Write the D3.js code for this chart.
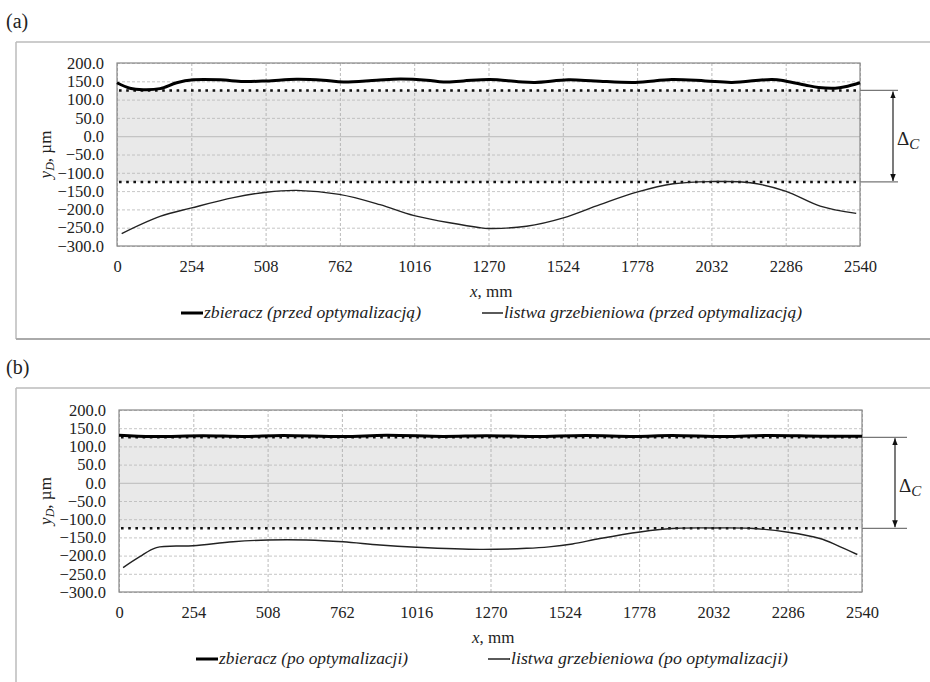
<!DOCTYPE html>
<html><head><meta charset="utf-8">
<script src="https://cdn.jsdelivr.net/npm/d3@7"></script>
<style>body{margin:0;background:#fff}text{font-family:"Liberation Serif","Times New Roman",serif;fill:#222}</style>
</head><body><svg id="c" width="930" height="682"></svg>
<script>
// ---- data ----
const xTicks = [0,254,508,762,1016,1270,1524,1778,2032,2286,2540];
const yTicks = [-300,-250,-200,-150,-100,-50,0,50,100,150,200];
const limits = [125,-125];

const aUpperX = [0,44,90,147,204,261,352,432,512,614,705,774,888,968,1059,1116,1184,1275,1372,1429,1543,1634,1771,1897,2011,2102,2239,2284,2352,2398,2455,2489,2540];
const aUpperY = [146,131,127,130,146,154,154,149.5,151,155.5,153,148,153,156,153,148,151,155,149,147,154,151,147,155,151,147,155,151,140,133,131,135,146];
const aLowerX = [16,147,255,398,510,614,760,899,1016,1241,1270,1400,1526,1651,1777,1902,2030,2165,2285,2404,2527];
const aLowerY = [-266,-219,-196,-168,-153,-148,-159,-187,-217,-250,-252,-246,-223,-187,-153,-130,-124,-127,-150,-191,-211];
const bUpperX = [0,115,287,424,560,766,914,1108,1257,1422,1593,1764,1889,2072,2219,2400,2540];
const bUpperY = [130.5,127,129.5,127.5,130,127,130.5,127.5,129.5,127,130,127.5,130,127,130,128,128];
const bLowerX = [14,71,128,253,390,510,641,766,892,1017,1234,1393,1470,1550,1644,1781,1906,2032,2157,2288,2396,2453,2524];
const bLowerY = [-233,-203,-178,-173,-162,-157,-157,-162,-171,-177,-183,-180,-176,-168,-153,-135,-125,-124,-125,-136,-153,-171,-197];

const panels = [
  {label:"(a)", labelY:28, frameTop:42, frameBottom:339, l:117, r:860, t:63, b:246, ext:38, arrowDx:33,
   up:[aUpperX,aUpperY], low:[aLowerX,aLowerY], xTitleX:470,
   leg:[{x1:181,x2:203,tw:217,w:3,txt:"zbieracz (przed optymalizacją)"},{x1:482,x2:503,tw:298,w:1.3,txt:"listwa grzebieniowa (przed optymalizacją)"}]},
  {label:"(b)", labelY:374, frameTop:388, frameBottom:null, l:119, r:862, t:410, b:592, ext:45, arrowDx:33,
   up:[bUpperX,bUpperY], low:[bLowerX,bLowerY], xTitleX:472,
   leg:[{x1:196,x2:218,tw:189,w:3,txt:"zbieracz (po optymalizacji)"},{x1:488,x2:510,tw:277,w:1.3,txt:"listwa grzebieniowa  (po optymalizacji)"}]}
];

const svg = d3.select("#c");
const defs = svg.append("defs");
defs.append("marker").attr("id","ah").attr("viewBox","0 0 10 10").attr("refX",10).attr("refY",5)
  .attr("markerWidth",7).attr("markerHeight",10).attr("markerUnits","userSpaceOnUse").attr("orient","auto-start-reverse")
  .append("path").attr("d","M0,1 L10,5 L0,9 Z").attr("fill","#111");

panels.forEach(p=>{
  const g = svg.append("g");
  g.append("text").attr("x",6).attr("y",p.labelY).attr("font-size",20).text(p.label);
  g.append("line").attr("x1",16).attr("x2",930).attr("y1",p.frameTop).attr("y2",p.frameTop).attr("stroke","#bbb").attr("stroke-width",1.5);
  g.append("line").attr("x1",16).attr("x2",16).attr("y1",p.frameTop).attr("y2",p.frameBottom||682).attr("stroke","#bbb").attr("stroke-width",1.5);
  if(p.frameBottom) g.append("line").attr("x1",16).attr("x2",930).attr("y1",p.frameBottom).attr("y2",p.frameBottom).attr("stroke","#aaa").attr("stroke-width",2);

  const x = d3.scaleLinear().domain([0,2540]).range([p.l,p.r]);
  const y = d3.scaleLinear().domain([-300,200]).range([p.b,p.t]);

  g.append("rect").attr("x",p.l).attr("width",p.r-p.l).attr("y",y(limits[0])).attr("height",y(limits[1])-y(limits[0])).attr("fill","#e9e9e9");

  const gx = g.append("g").attr("transform",`translate(0,${p.b})`)
    .call(d3.axisBottom(x).tickValues(xTicks).tickSize(-(p.b-p.t)).tickFormat(""));
  gx.select(".domain").remove();
  gx.selectAll(".tick line").attr("stroke","#aaa").attr("stroke-dasharray","3,2").attr("stroke-width",0.8);
  const gy = g.append("g").attr("transform",`translate(${p.l},0)`)
    .call(d3.axisLeft(y).tickValues(yTicks).tickSize(-(p.r-p.l)).tickFormat(""));
  gy.select(".domain").remove();
  gy.selectAll(".tick line").attr("stroke",d=>d===0?"#c4c4c4":"#b8b8b8").attr("stroke-dasharray",d=>d===0?null:"3,2").attr("stroke-width",d=>d===0?1.2:0.8);

  const gyl = g.append("g").attr("transform",`translate(${p.l},0)`)
    .call(d3.axisLeft(y).tickValues(yTicks).tickSize(0).tickPadding(13).tickFormat(d=>d3.format(".1f")(d)));
  gyl.select(".domain").remove();
  gyl.selectAll("text").attr("font-size",16.5).attr("font-family","Liberation Serif").attr("fill","#222");
  const gxl = g.append("g").attr("transform",`translate(0,${p.b})`)
    .call(d3.axisBottom(x).tickValues(xTicks).tickSize(0).tickPadding(14).tickFormat(d3.format("d")));
  gxl.select(".domain").remove();
  gxl.selectAll("text").attr("font-size",16.5).attr("font-family","Liberation Serif").attr("fill","#222");

  g.append("rect").attr("x",p.l).attr("y",p.t).attr("width",p.r-p.l).attr("height",p.b-p.t).attr("fill","none").attr("stroke","#888").attr("stroke-width",1.2);

  limits.forEach(v=>{
    g.append("line").attr("x1",x(0)+2).attr("x2",x(2540)-2).attr("y1",y(v)).attr("y2",y(v))
      .attr("stroke","#111").attr("stroke-width",2.6).attr("stroke-dasharray","2.6,4.6");
  });

  const line = d3.line().x(d=>x(d[0])).y(d=>y(d[1])).curve(d3.curveCatmullRom.alpha(0.5));
  const up = d3.zip(p.up[0],p.up[1]);
  const low = d3.zip(p.low[0],p.low[1]);
  g.append("path").attr("d",line(low)).attr("fill","none").attr("stroke","#222").attr("stroke-width",1.4);
  g.append("path").attr("d",line(up)).attr("fill","none").attr("stroke","#000").attr("stroke-width",3);

  limits.forEach(v=>{
    g.append("line").attr("x1",p.r).attr("x2",p.r+p.ext).attr("y1",y(v)).attr("y2",y(v)).attr("stroke","#777").attr("stroke-width",1.2);
  });
  const ax = p.r+p.arrowDx;
  g.append("line").attr("x1",ax).attr("x2",ax).attr("y1",y(limits[0])+1).attr("y2",y(limits[1])-1)
    .attr("stroke","#222").attr("stroke-width",1.2).attr("marker-start","url(#ah)").attr("marker-end","url(#ah)");
  const mid = (y(limits[0])+y(limits[1]))/2;
  const dt = g.append("text").attr("x",ax+4).attr("y",mid+9).attr("font-size",19);
  dt.append("tspan").text("Δ");
  dt.append("tspan").attr("font-style","italic").attr("font-size",15).attr("dy",4).text("C");

  const yt = g.append("text").attr("transform",`translate(51,${(p.t+p.b)/2}) rotate(-90)`).attr("text-anchor","middle").attr("font-size",17);
  yt.append("tspan").attr("font-style","italic").text("y");
  yt.append("tspan").attr("font-style","italic").attr("font-size",12).attr("dy",3).text("D");
  yt.append("tspan").attr("dy",-3).text(", µm");

  const xt = g.append("text").attr("x",p.xTitleX).attr("y",p.b+51).attr("font-size",17);
  xt.append("tspan").attr("font-style","italic").text("x");
  xt.append("tspan").text(", mm");

  p.leg.forEach(L=>{
    const ly = p.b+67;
    g.append("line").attr("x1",L.x1).attr("x2",L.x2).attr("y1",ly).attr("y2",ly).attr("stroke","#000").attr("stroke-width",L.w);
    g.append("text").attr("x",L.x2+1).attr("y",ly+5).attr("font-size",16.5).attr("font-style","italic")
      .attr("textLength",L.tw).attr("lengthAdjust","spacingAndGlyphs").text(L.txt);
  });
});
</script></body></html>
